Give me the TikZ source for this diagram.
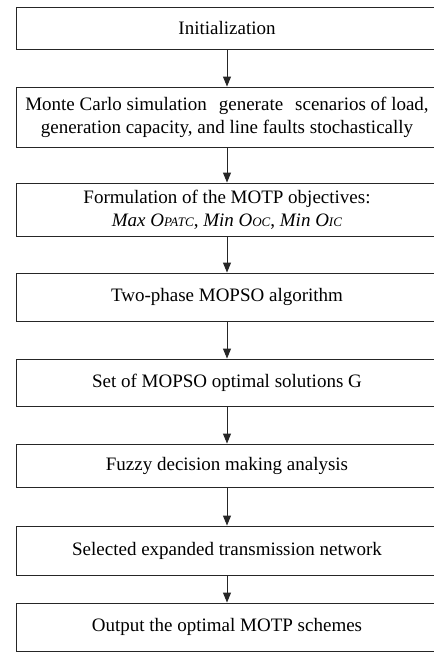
\documentclass[tikz,border=0pt]{standalone}
\usepackage{fontspec}
\setmainfont{Liberation Serif}
\usetikzlibrary{arrows.meta}
\tikzset{
  stepbox/.style={draw=black!85, line width=0.9pt, minimum width=422pt, inner sep=0pt, align=center, font=\fontsize{19}{23}\selectfont},
  flow/.style={draw=black!85, line width=0.9pt, -{Triangle[width=8pt,length=10pt]}}
}
\newcommand{\subsc}[1]{{\fontsize{13}{13}\selectfont #1}}
\begin{document}
\begin{tikzpicture}[x=1pt,y=-1pt]
\useasboundingbox (0,0) rectangle (434,662);
\node[stepbox, minimum height=42pt] (b1) at (227,28) {Initialization};
\node[stepbox, minimum height=60pt] (b2) at (227,117) {Monte Carlo simulation\hspace{12pt}generate\hspace{12pt}scenarios of load,\\generation capacity, and line faults stochastically};
\node[stepbox, minimum height=53pt] (b3) at (227,209.5) {Formulation of the MOTP objectives:\\\textit{Max O\subsc{PATC}}, \textit{Min O\subsc{OC}}, \textit{Min O\subsc{IC}}};
\node[stepbox, minimum height=48pt] (b4) at (227,297) {Two-phase MOPSO algorithm};
\node[stepbox, minimum height=47pt] (b5) at (227,382.5) {Set of MOPSO optimal solutions G};
\node[stepbox, minimum height=43pt] (b6) at (227,465.5) {Fuzzy decision making analysis};
\node[stepbox, minimum height=49pt] (b7) at (227,550.5) {Selected expanded transmission network};
\node[stepbox, minimum height=48pt] (b8) at (227,627) {Output the optimal MOTP schemes};
\draw[flow] (b1) -- (b2);
\draw[flow] (b2) -- (b3);
\draw[flow] (b3) -- (b4);
\draw[flow] (b4) -- (b5);
\draw[flow] (b5) -- (b6);
\draw[flow] (b6) -- (b7);
\draw[flow] (b7) -- (b8);
\end{tikzpicture}
\end{document}
